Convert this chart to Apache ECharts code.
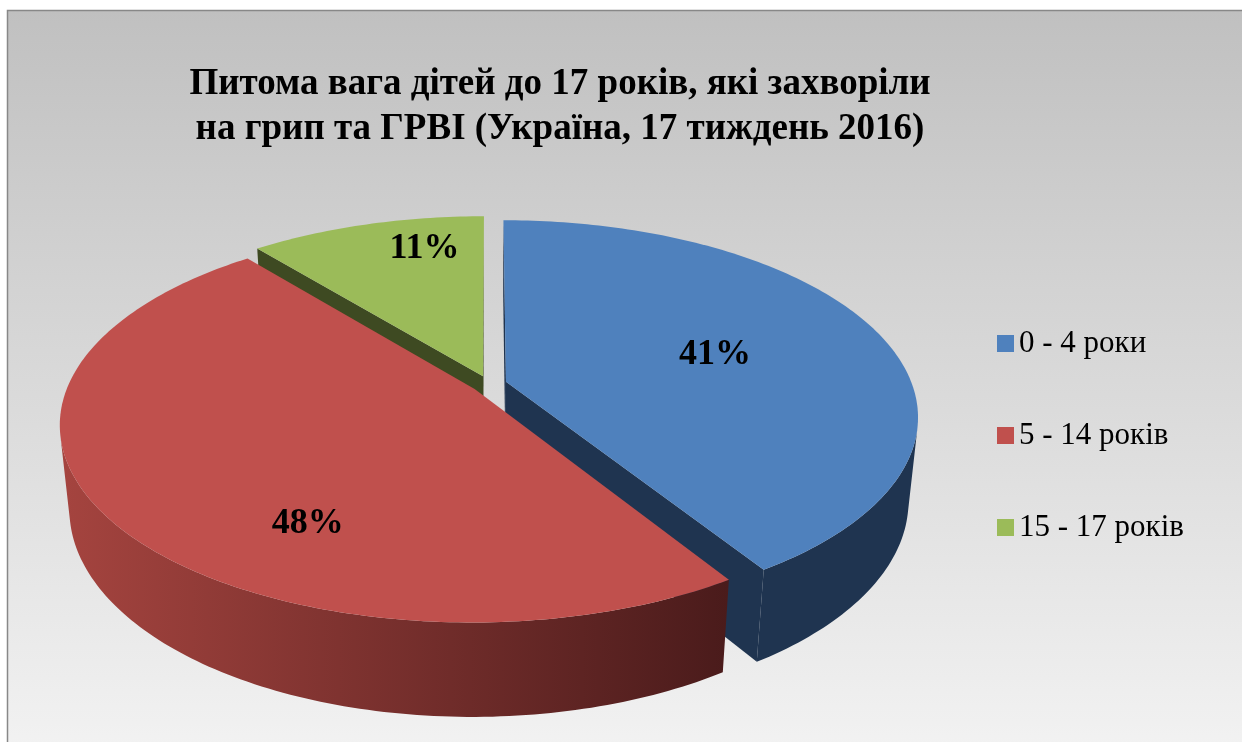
<!DOCTYPE html>
<html>
<head>
<meta charset="utf-8">
<script src="https://cdn.jsdelivr.net/npm/echarts@6/dist/echarts.min.js"></script>
<style>
  html, body { margin: 0; padding: 0; background: #fff; }
  #chart { width: 1242px; height: 742px; }
</style>
</head>
<body>
<div id="chart"></div>
<script>
(function () {
  'use strict';

  // === Data ===
  var categories = ['0 - 4 роки', '5 - 14 років', '15 - 17 років'];
  var shares = [41, 48, 11];
  var titleLines = [
    'Питома вага дітей до 17 років, які захворіли',
    'на грип та ГРВІ (Україна, 17 тиждень 2016)'
  ];

  // === Styles ===
  var topColors = ['#4f81bd', '#c0504d', '#9bbb59'];
  var sideColors = ['#1f3450', ['#a5443f', '#4a1b1b'], '#3e4a22'];
  // label anchor inside each slice: [angle in degrees, fraction of radius]
  var labelPlacement = [[74.6, 0.55], [210, 0.72], [347.8, 0.79]];

  // === 3D view (Excel-like perspective pie) ===
  var R = 406;          // pie radius
  var H = 96;           // pie thickness
  var EXPLODE = 17.7;   // slice offset
  var F = 2040;         // camera distance
  var PHI = 28 * Math.PI / 180;
  var CX = 489, CY = 384;
  var cosP = Math.cos(PHI), sinP = Math.sin(PHI);
  var CAM = [0, F * sinP, F * cosP];

  function proj(X, Y, Z) {
    var d = Z * cosP + Y * sinP;
    var k = F / (F - d);
    return [CX + X * k, CY - (Y * cosP - Z * sinP) * k];
  }

  function facing(P, n) {
    return (CAM[0] - P[0]) * n[0] + (CAM[1] - P[1]) * n[1] + (CAM[2] - P[2]) * n[2] > 0;
  }

  // slice geometry from shares
  var total = shares.reduce(function (a, b) { return a + b; }, 0);
  var acc = 0;
  var slices = shares.map(function (v) {
    var a0 = acc / total * Math.PI * 2;
    acc += v;
    var a1 = acc / total * Math.PI * 2;
    var mid = (a0 + a1) / 2;
    return { a0: a0, a1: a1, ox: EXPLODE * Math.sin(mid), oz: -EXPLODE * Math.cos(mid) };
  });
  var order = slices.map(function (s, i) { return i; })
    .sort(function (a, b) { return slices[a].oz - slices[b].oz; });

  function rim(s, t, y) {
    return proj(s.ox + R * Math.sin(t), y, s.oz - R * Math.cos(t));
  }

  function solidOf(c) { return typeof c === 'string' ? c : c[c.length - 1]; }

  function renderSlice(params, api) {
    var i = params.dataIndex;
    var s = slices[i];
    var rank = order.indexOf(i);
    var base = rank * 10;
    var children = [];
    var steps = Math.max(2, Math.ceil((s.a1 - s.a0) / (Math.PI / 180)));
    var ts = [];
    for (var j = 0; j <= steps; j++) ts.push(s.a0 + (s.a1 - s.a0) * j / steps);

    var apexTop = proj(s.ox, 0, s.oz);
    var apexBot = proj(s.ox, -H, s.oz);
    var side = sideColors[i];

    // radial walls
    var walls = [
      { t: s.a0, n: [-Math.cos(s.a0), 0, -Math.sin(s.a0)] },
      { t: s.a1, n: [Math.cos(s.a1), 0, Math.sin(s.a1)] }
    ];
    walls.forEach(function (w) {
      var P = [s.ox + R / 2 * Math.sin(w.t), -H / 2, s.oz - R / 2 * Math.cos(w.t)];
      if (!facing(P, w.n)) return;
      children.push({
        type: 'polygon',
        z2: base + 1,
        shape: { points: [apexTop, rim(s, w.t, 0), rim(s, w.t, -H), apexBot] },
        style: { fill: solidOf(side) }
      });
    });

    // outer curved wall, visible runs only
    var runs = [], cur = null;
    for (var k = 0; k < steps; k++) {
      var tm = (ts[k] + ts[k + 1]) / 2;
      var P = [s.ox + R * Math.sin(tm), -H / 2, s.oz - R * Math.cos(tm)];
      var vis = facing(P, [Math.sin(tm), 0, -Math.cos(tm)]);
      if (vis) {
        if (!cur) { cur = [ts[k]]; runs.push(cur); }
        cur.push(ts[k + 1]);
      } else {
        cur = null;
      }
    }
    runs.forEach(function (run) {
      var pts = run.map(function (t) { return rim(s, t, 0); });
      for (var m = run.length - 1; m >= 0; m--) pts.push(rim(s, run[m], -H));
      var fill = typeof side === 'string' ? side
        : new echarts.graphic.LinearGradient(0, 0, 1, 0, [
          { offset: 0, color: side[0] }, { offset: 1, color: side[1] }
        ]);
      children.push({
        type: 'polygon',
        z2: base + 2,
        shape: { points: pts },
        style: { fill: fill }
      });
    });

    // top face
    var topPts = [apexTop].concat(ts.map(function (t) { return rim(s, t, 0); }));
    children.push({
      type: 'polygon',
      z2: base + 3,
      shape: { points: topPts },
      style: { fill: topColors[i] }
    });

    // percentage label
    var lp = labelPlacement[i];
    var la = lp[0] * Math.PI / 180;
    var lpos = proj(s.ox + R * lp[1] * Math.sin(la), 0, s.oz - R * lp[1] * Math.cos(la));
    children.push({
      type: 'text',
      z2: 100,
      style: {
        text: api.value(0) + '%',
        x: lpos[0],
        y: lpos[1],
        align: 'center',
        verticalAlign: 'middle',
        fill: '#000',
        font: 'bold 36px "Liberation Serif", serif'
      }
    });

    return { type: 'group', children: children };
  }

  var chart = echarts.init(document.getElementById('chart'), null, { renderer: 'canvas' });

  // legend-only series (one per category)
  var legendSeries = categories.map(function (name, i) {
    return {
      type: 'custom',
      name: name,
      coordinateSystem: 'none',
      itemStyle: { color: topColors[i] },
      data: [],
      renderItem: function () { return null; }
    };
  });

  chart.setOption({
    animation: false,
    backgroundColor: '#ffffff',
    graphic: {
      elements: [{
        type: 'rect',
        z: -10,
        shape: { x: 7.5, y: 10.5, width: 1300, height: 740 },
        style: {
          fill: new echarts.graphic.LinearGradient(0, 0, 0, 1, [
            { offset: 0, color: '#c0c0c0' },
            { offset: 1, color: '#f2f2f2' }
          ]),
          stroke: '#888888',
          lineWidth: 1.5
        }
      }]
    },
    title: {
      text: titleLines.join('\n'),
      left: 555,
      top: 57,
      textAlign: 'center',
      textStyle: {
        fontFamily: '"Liberation Serif", serif',
        fontWeight: 'bold',
        fontSize: 37,
        lineHeight: 45,
        color: '#000'
      }
    },
    legend: {
      data: categories,
      orient: 'vertical',
      left: 992,
      top: 323,
      icon: 'rect',
      itemWidth: 17,
      itemHeight: 17,
      itemGap: 61,
      selectedMode: false,
      textStyle: {
        fontFamily: '"Liberation Serif", serif',
        fontSize: 31,
        color: '#000'
      }
    },
    series: legendSeries.concat([{
      type: 'custom',
      name: 'pie3d',
      coordinateSystem: 'none',
      data: shares.map(function (v, i) { return { name: categories[i], value: [v] }; }),
      renderItem: renderSlice
    }])
  });
})();
</script>
</body>
</html>
